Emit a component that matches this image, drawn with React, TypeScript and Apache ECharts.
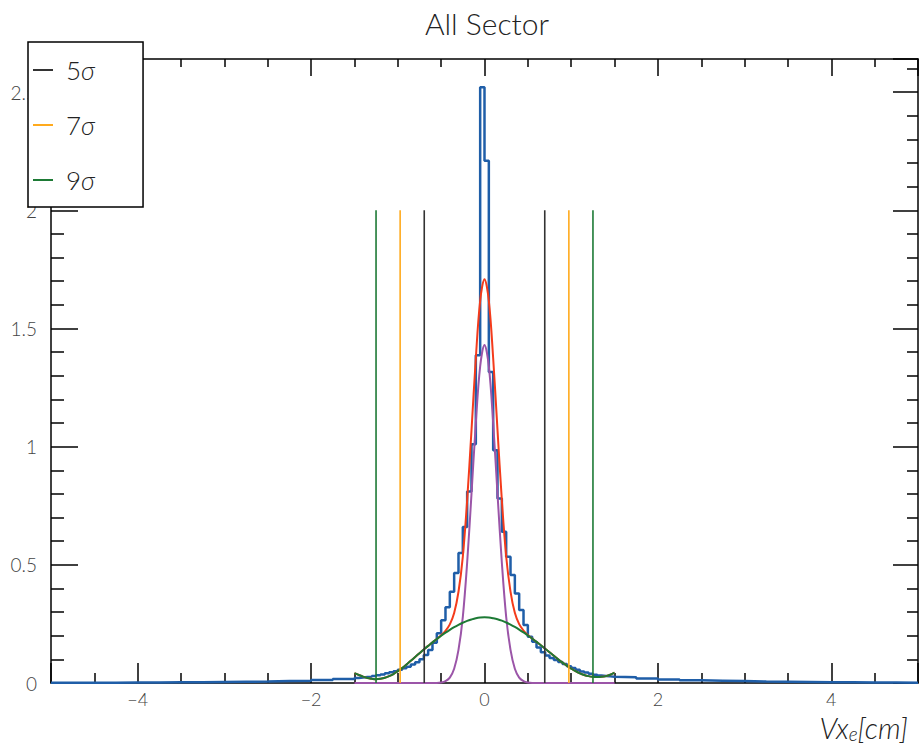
import React, { useEffect, useRef } from 'react';
import * as echarts from 'echarts';

// ---------- data ----------
const TITLE = 'All Sector';
const X_TITLE = '{i|Vx}{s|e}{i|[cm]}';
const X_MIN = -5;
const X_MAX = 5;
const Y_MAX = 2.64;

// histogram, left tail: bins of 0.25 from -5 to -1.5
const tailLeftStart = -5;
const tailWidth = 0.25;
const tailLeftValues = [0.001, 0.001, 0.001, 0.002, 0.002, 0.003, 0.003, 0.004, 0.005, 0.006, 0.008, 0.010, 0.013, 0.017];
// histogram, core: bins of 0.05 from -1.5 to 1.5
const coreStart = -1.5;
const coreWidth = 0.05;
const coreValues = [
  0.021, 0.023, 0.025, 0.027, 0.030, 0.033, 0.036, 0.041, 0.046, 0.050,
  0.056, 0.062, 0.069, 0.078, 0.088, 0.100, 0.118, 0.140, 0.170, 0.210,
  0.266, 0.320, 0.386, 0.465, 0.550, 0.660, 0.810, 1.010, 1.387, 2.520,
  2.210, 1.316, 0.985, 0.781, 0.640, 0.534, 0.457, 0.379, 0.309, 0.245,
  0.196, 0.175, 0.150, 0.130, 0.116, 0.106, 0.097, 0.089, 0.080, 0.071,
  0.063, 0.056, 0.049, 0.044, 0.039, 0.035, 0.032, 0.030, 0.028, 0.026,
];
// histogram, right tail: bins of 0.25 from 1.5 to 5
const tailRightStart = 1.5;
const tailRightValues = [0.024, 0.019, 0.015, 0.012, 0.010, 0.008, 0.006, 0.005, 0.004, 0.003, 0.003, 0.002, 0.002, 0.001];

// fitted curves sampled at these x positions
const curveX = [
  -1.5, -1.45, -1.4, -1.35, -1.3, -1.25, -1.2, -1.15, -1.1, -1.05,
  -1.0, -0.95, -0.9, -0.85, -0.8, -0.75, -0.7, -0.65, -0.6, -0.55,
  -0.5, -0.45, -0.4, -0.35, -0.3, -0.25, -0.2, -0.15, -0.1, -0.05,
  0,
  0.05, 0.1, 0.15, 0.2, 0.25, 0.3, 0.35, 0.4, 0.45, 0.5,
  0.55, 0.6, 0.65, 0.7, 0.75, 0.8, 0.85, 0.9, 0.95, 1.0,
  1.05, 1.1, 1.15, 1.2, 1.25, 1.3, 1.35, 1.4, 1.45, 1.5,
];
// narrow component (purple)
const narrowY = [
  0, 0, 0, 0, 0, 0, 0, 0, 0, 0,
  0, 0, 0, 0, 0, 0, 0, 0, 0, 0,
  0.002, 0.008, 0.023, 0.06, 0.14, 0.28, 0.51, 0.80, 1.10, 1.34,
  1.43,
  1.34, 1.10, 0.80, 0.51, 0.28, 0.14, 0.06, 0.023, 0.008, 0.002,
  0, 0, 0, 0, 0, 0, 0, 0, 0, 0,
  0, 0, 0, 0, 0, 0, 0, 0, 0, 0,
];
// wide component (green)
const wideY = [
  0.042, 0.034, 0.027, 0.021, 0.018, 0.016, 0.018, 0.022, 0.029, 0.038,
  0.050, 0.063, 0.078, 0.094, 0.110, 0.126, 0.142, 0.157, 0.172, 0.186,
  0.200, 0.213, 0.225, 0.236, 0.246, 0.255, 0.263, 0.269, 0.274, 0.277,
  0.278,
  0.277, 0.274, 0.270, 0.264, 0.256, 0.247, 0.237, 0.226, 0.214, 0.201,
  0.188, 0.174, 0.160, 0.145, 0.130, 0.115, 0.100, 0.086, 0.073, 0.061,
  0.050, 0.041, 0.034, 0.029, 0.026, 0.025, 0.026, 0.029, 0.035, 0.044,
];
// total fit (red)
const totalY = [
  0.042, 0.034, 0.027, 0.021, 0.018, 0.016, 0.018, 0.022, 0.029, 0.038,
  0.050, 0.063, 0.078, 0.094, 0.110, 0.126, 0.142, 0.157, 0.172, 0.186,
  0.202, 0.221, 0.248, 0.296, 0.386, 0.535, 0.773, 1.069, 1.374, 1.617,
  1.708,
  1.617, 1.374, 1.070, 0.774, 0.536, 0.387, 0.297, 0.249, 0.222, 0.203,
  0.188, 0.174, 0.160, 0.145, 0.130, 0.115, 0.100, 0.086, 0.073, 0.061,
  0.050, 0.041, 0.034, 0.029, 0.026, 0.025, 0.026, 0.029, 0.035, 0.044,
];

// sigma cut lines
const sigmaLabels = ['5σ', '7σ', '9σ'];
const sigmaCuts = [0.695, 0.973, 1.251];
const sigmaLineTop = 2;
const sigmaColors = ['#333333', '#ffaa1d', '#1d7a35'];

const xTickLabels = [-4, -2, 0, 2, 4];
const yTickLabels = [0, 0.5, 1, 1.5, 2, 2.5];

// ---------- build ----------
function buildHistogram(): [number, number][] {
  const bins: { lo: number; hi: number; v: number }[] = [];
  tailLeftValues.forEach((v, i) => bins.push({ lo: tailLeftStart + i * tailWidth, hi: tailLeftStart + (i + 1) * tailWidth, v }));
  coreValues.forEach((v, i) => bins.push({ lo: coreStart + i * coreWidth, hi: coreStart + (i + 1) * coreWidth, v }));
  tailRightValues.forEach((v, i) => bins.push({ lo: tailRightStart + i * tailWidth, hi: tailRightStart + (i + 1) * tailWidth, v }));
  const pts: [number, number][] = bins.map((b) => [+b.lo.toFixed(4), b.v]);
  const last = bins[bins.length - 1];
  pts.push([+last.hi.toFixed(4), last.v]);
  return pts;
}

const FONT = 'Lato, "Open Sans", "DejaVu Sans", sans-serif';
const LABEL_COLOR = '#444';
const AXIS_COLOR = '#000';

export default function App() {
  const ref = useRef<HTMLDivElement>(null);
  useEffect(() => {
    if (!ref.current) return;
    const chart = echarts.init(ref.current, undefined, { renderer: 'svg' });

    const sigmaSeries: any[] = [];
    sigmaLabels.forEach((name, k) => {
      [-1, 1].forEach((sgn) => {
        sigmaSeries.push({
          name,
          type: 'line',
          color: sigmaColors[k],
          data: [[sgn * sigmaCuts[k], 0], [sgn * sigmaCuts[k], sigmaLineTop]],
          showSymbol: false,
          lineStyle: { color: sigmaColors[k], width: 1.6 },
          z: 4,
        });
      });
    });

    const curve = (ys: number[], color: string, z: number) => ({
      type: 'line',
      data: curveX.map((x, i) => [x, ys[i]]),
      smooth: 0.35,
      showSymbol: false,
      lineStyle: { color, width: 2 },
      z,
    });

    const yFmt = (v: number) => (yTickLabels.some((t) => Math.abs(t - v) < 1e-6) ? String(v) : '');
    const xFmt = (v: number) => (xTickLabels.some((t) => Math.abs(t - v) < 1e-6) ? String(v).replace('-', '−') : '');

    chart.setOption({
      animation: false,
      backgroundColor: '#fff',
      title: {
        text: TITLE,
        left: 482,
        top: 3,
        textAlign: 'center',
        textStyle: { fontFamily: FONT, fontWeight: 300, fontSize: 30, color: '#222' },
      },
      legend: {
        data: sigmaLabels,
        orient: 'vertical',
        left: 28,
        top: 42,
        padding: [13, 48, 12, 5],
        itemGap: 25,
        itemWidth: 20,
        itemHeight: 2,
        icon: 'rect',
        selectedMode: false,
        backgroundColor: '#fff',
        borderColor: '#000',
        borderWidth: 1.5,
        formatter: (name: string) => `{n|${name.slice(0, -1)}}{s|σ}`,
        textStyle: {
          padding: [0, 0, 0, 8],
          lineHeight: 30,
          rich: {
            n: { fontFamily: FONT, fontWeight: 300, fontSize: 26, color: '#222' },
            s: { fontFamily: FONT, fontWeight: 300, fontStyle: 'italic', fontSize: 26, color: '#222' },
          },
        },
        z: 10,
      },
      graphic: [
        {
          type: 'text',
          right: 11,
          top: 713,
          z: 10,
          style: {
            text: X_TITLE,
            rich: {
              i: { fontFamily: FONT, fontWeight: 300, fontStyle: 'italic', fontSize: 29, fill: '#222', lineHeight: 31, verticalAlign: 'middle' },
              s: { fontFamily: FONT, fontWeight: 300, fontStyle: 'italic', fontSize: 19, fill: '#222', lineHeight: 14, verticalAlign: 'bottom' },
            },
          },
        },
      ],
      grid: { left: 51, right: 1, top: 59, bottom: 62, containLabel: false, outerBoundsMode: 'none' },
      xAxis: [
        {
          type: 'value',
          min: X_MIN,
          max: X_MAX,
          splitNumber: 5,
          position: 'bottom',
          axisLine: { onZero: false, lineStyle: { color: AXIS_COLOR, width: 1.5 } },
          axisTick: { inside: true, length: 20, lineStyle: { color: AXIS_COLOR, width: 1.5 } },
          minorTick: { show: true, splitNumber: 4, length: 10, lineStyle: { color: AXIS_COLOR, width: 1.5 } },
          splitLine: { show: false },
          axisLabel: { formatter: xFmt, margin: 6, fontFamily: FONT, fontWeight: 300, fontSize: 18, lineHeight: 20, color: LABEL_COLOR },
        },
        {
          type: 'value',
          min: X_MIN,
          max: X_MAX,
          splitNumber: 5,
          position: 'top',
          axisLine: { onZero: false, lineStyle: { color: AXIS_COLOR, width: 1.5 } },
          axisTick: { inside: true, length: 17, lineStyle: { color: AXIS_COLOR, width: 1.5 } },
          minorTick: { show: true, splitNumber: 4, length: 8, lineStyle: { color: AXIS_COLOR, width: 1.5 } },
          splitLine: { show: false },
          axisLabel: { show: false },
        },
      ],
      yAxis: [
        {
          type: 'value',
          min: 0,
          max: Y_MAX,
          interval: 0.5,
          position: 'left',
          axisLine: { show: true, onZero: false, lineStyle: { color: AXIS_COLOR, width: 1.5 } },
          axisTick: { show: true, inside: true, length: 27, lineStyle: { color: AXIS_COLOR, width: 1.5 } },
          minorTick: { show: true, splitNumber: 5, length: 13, lineStyle: { color: AXIS_COLOR, width: 1.5 } },
          splitLine: { show: false },
          axisLabel: { formatter: yFmt, margin: 14, fontFamily: FONT, fontWeight: 300, fontSize: 19, color: LABEL_COLOR },
        },
        {
          type: 'value',
          min: 0,
          max: Y_MAX,
          interval: 0.5,
          position: 'right',
          axisLine: { show: true, onZero: false, lineStyle: { color: AXIS_COLOR, width: 1.5 } },
          axisTick: { show: true, inside: true, length: 25, lineStyle: { color: AXIS_COLOR, width: 1.5 } },
          minorTick: { show: true, splitNumber: 5, length: 11, lineStyle: { color: AXIS_COLOR, width: 1.5 } },
          splitLine: { show: false },
          axisLabel: { show: false },
        },
      ],
      series: [
        {
          type: 'line',
          step: 'end',
          data: buildHistogram(),
          showSymbol: false,
          lineStyle: { color: '#1f5ea8', width: 2.5 },
          z: 2,
        },
        curve(narrowY, '#9b55a8', 3),
        curve(totalY, '#f43b1b', 3),
        curve(wideY, '#1d7a35', 3),
        ...sigmaSeries,
      ],
    });
    return () => chart.dispose();
  }, []);

  return <div ref={ref} style={{ position: 'absolute', left: 0, top: 0, width: 919, height: 745 }} />;
}
